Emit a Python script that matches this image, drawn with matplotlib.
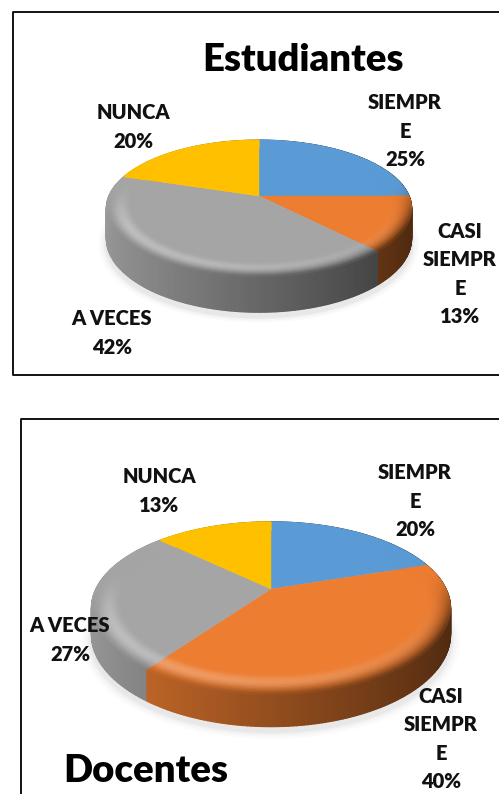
import numpy as np
import matplotlib
matplotlib.use("Agg")
import matplotlib.pyplot as plt
from matplotlib.collections import PolyCollection
from matplotlib.patches import Polygon

plt.rcParams['font.family'] = ['Lato', 'DejaVu Sans']

categories = ["SIEMPR\nE", "CASI\nSIEMPR\nE", "A VECES", "NUNCA"]
estudiantes = [25, 13, 42, 20]
docentes = [20, 40, 27, 13]
colors = ["#5B9BD5", "#ED7D31", "#A5A5A5", "#FFC000"]


def project(theta, r, pie):
    # circle seen in perspective, far side squeezed
    cx, cy, rx, ry, k, depth = pie
    u = r * np.sin(theta)
    v = r * np.cos(theta)
    w = 1 + k * v
    return cx + rx * u / w, cy - ry * v / w, 1 / w


def rim_factor(theta, r):
    # returns (darken, whiten) for bevel on the top face
    u = np.sin(theta)
    v = np.cos(theta)
    t = (r - 0.84) / 0.16
    front = np.clip((0.25 - v) / 0.8, 0, 1)
    front = front * front * (3 - 2 * front)
    side = (u + 1) / 2
    white = np.sin(np.pi * np.clip(t * 1.1, 0, 1)) ** 2 * front * 0.30 * (1 - side) ** 0.6
    dark = t ** 3 * front * (0.1 + 0.55 * side)
    return dark, white


def draw_pie(ax, values, pie):
    cx, cy, rx, ry, k, depth = pie
    total = sum(values)
    edges = np.cumsum([0] + list(values)) / total * 2 * np.pi

    # soft shadow under the pie
    th = np.linspace(0, 2 * np.pi, 160)
    for grow, alpha in zip([1.05, 1.035, 1.02, 1.01], [0.03, 0.04, 0.05, 0.06]):
        x, y, s = project(th, grow, pie)
        ax.add_patch(Polygon(np.c_[x, y + depth * s + 5], fc="#808080", ec="none", alpha=alpha, zorder=1))

    side_quads, side_cols, top_quads, top_cols = [], [], [], []
    rings = np.linspace(0.84, 1.0, 17)
    for a, b, col in zip(edges[:-1], edges[1:], colors):
        base = np.array(matplotlib.colors.to_rgb(col))
        ths = np.linspace(a, b, max(int((b - a) * 60), 6))

        # wall of the slice
        for t0, t1 in zip(ths[:-1], ths[1:]):
            x0, y0, s0 = project(t0, 1, pie)
            x1, y1, s1 = project(t1, 1, pie)
            side_quads.append([(x0, y0), (x1, y1), (x1, y1 + depth * s1), (x0, y0 + depth * s0)])
            shade = 0.62 - 0.30 * np.sin((t0 + t1) / 2)
            side_cols.append(base * shade)

        # flat part of the top
        x, y, _ = project(ths, rings[0], pie)
        poly = np.vstack([[cx, cy], np.c_[x, y]])
        ax.add_patch(Polygon(poly, fc=col, ec=col, lw=0.3, zorder=4))

        # bevel rings
        for r0, r1 in zip(rings[:-1], rings[1:]):
            for t0, t1 in zip(ths[:-1], ths[1:]):
                x00, y00, _ = project(t0, r0, pie)
                x01, y01, _ = project(t1, r0, pie)
                x11, y11, _ = project(t1, r1, pie)
                x10, y10, _ = project(t0, r1, pie)
                top_quads.append([(x00, y00), (x01, y01), (x11, y11), (x10, y10)])
                dark, white = rim_factor((t0 + t1) / 2, (r0 + r1) / 2)
                c = base * (1 - dark)
                top_cols.append(c + (1 - c) * white)

    ax.add_collection(PolyCollection(side_quads, facecolors=side_cols, edgecolors=side_cols, linewidths=1.0, zorder=2))
    ax.add_collection(PolyCollection(top_quads, facecolors=top_cols, edgecolors=top_cols, linewidths=0.6, zorder=5))


fig = plt.figure(figsize=(4.99, 7.94), dpi=100)
ax = fig.add_axes([0, 0, 1, 1])
ax.set_xlim(0, 499)
ax.set_ylim(794, 0)
ax.axis("off")

# frames, cut by the right and bottom edge of the picture
ax.plot([499, 13, 13, 499], [12, 12, 375, 375], color="black", lw=1.3, zorder=1)
ax.plot([21, 21, 499], [794, 419, 419], color="black", lw=1.3, zorder=1)

draw_pie(ax, estudiantes, (259, 196, 150, 66, 0.182, 29))
draw_pie(ax, docentes, (271, 589, 175, 82, 0.222, 25))

est_pos = [(405, 131), (460, 274), (112, 333), (133, 127)]
doc_pos = [(415, 501), (441, 739), (70, 640), (159, 491)]
for values, positions in [(estudiantes, est_pos), (docentes, doc_pos)]:
    for cat, val, (x, y) in zip(categories, values, positions):
        ax.text(x, y, f"{cat}\n{val}%", ha="center", va="center", fontsize=14.5,
                fontweight="heavy", color="#111111", linespacing=1.58, zorder=10)

ax.text(303, 60, "Estudiantes", ha="center", va="center", fontsize=27.5, fontweight="heavy", color="black", zorder=10)
ax.text(146, 771, "Docentes", ha="center", va="center", fontsize=27.5, fontweight="heavy", color="black", zorder=10)

fig.savefig("out.png", dpi=100, facecolor="white")
